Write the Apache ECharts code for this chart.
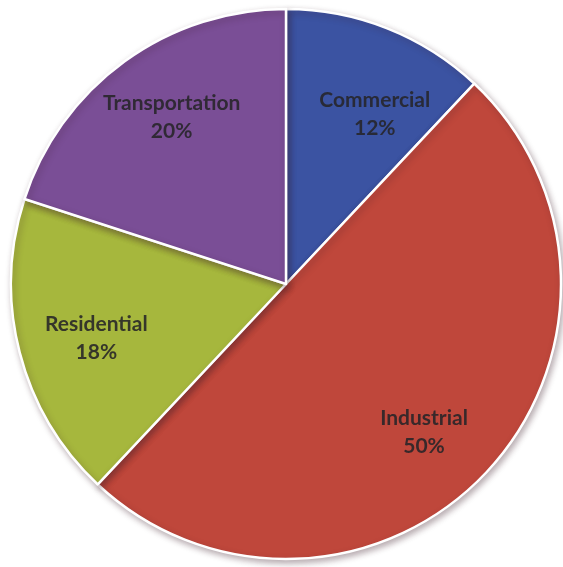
<!DOCTYPE html>
<html>
<head>
<meta charset="utf-8">
<script src="https://cdn.jsdelivr.net/npm/echarts@6/dist/echarts.min.js"></script>
<style>
  html, body { margin: 0; padding: 0; background: #ffffff; }
  #chart { width: 563px; height: 567px; }
</style>
</head>
<body>
<div id="chart"></div>
<script>
// Energy use by sector, share in percent (clockwise from 12 o'clock)
const sectors = ['Commercial', 'Industrial', 'Residential', 'Transportation'];
const shares = [12, 50, 18, 20];
const sectorColors = ['#3b53a2', '#bf473b', '#a6b73d', '#7a4e96'];
// small nudges of each label away from the slice bisector
const labelNudges = [[14, 19], [-10, 9], [7, 4], [5, -2]];

const pieData = sectors.map((name, i) => ({
  name: name,
  value: shares[i],
  itemStyle: { color: sectorColors[i] }
}));

const center = [286, 284];
const outerRadius = 275;

const chart = echarts.init(document.getElementById('chart'), null, { renderer: 'canvas' });
chart.setOption({
  backgroundColor: '#ffffff',
  animation: false,
  series: [
    {
      // the visible slices
      type: 'pie',
      center: center,
      radius: [0, outerRadius],
      startAngle: 90,
      clockwise: true,
      silent: true,
      label: { show: false },
      labelLine: { show: false },
      itemStyle: {
        borderColor: '#ffffff',
        borderWidth: 2.5,
        shadowColor: 'rgba(60, 30, 40, 0.35)',
        shadowBlur: 6,
        shadowOffsetX: 2,
        shadowOffsetY: 3
      },
      data: pieData
    },
    {
      // transparent twin whose 'inside' labels sit at ~0.73 of the visible radius
      type: 'pie',
      center: center,
      radius: [0, outerRadius * 1.455],
      startAngle: 90,
      clockwise: true,
      silent: true,
      itemStyle: { color: 'transparent', borderWidth: 0 },
      label: {
        show: true,
        position: 'inside',
        formatter: p => p.name + '\n' + p.value + '%',
        fontFamily: 'Lato',
        fontWeight: 'bold',
        fontSize: 21,
        lineHeight: 28,
        color: 'rgba(38, 36, 40, 0.88)'
      },
      labelLine: { show: false },
      data: sectors.map((name, i) => ({
        name: name,
        value: shares[i],
        label: { offset: labelNudges[i] }
      }))
    }
  ]
});
</script>
</body>
</html>
